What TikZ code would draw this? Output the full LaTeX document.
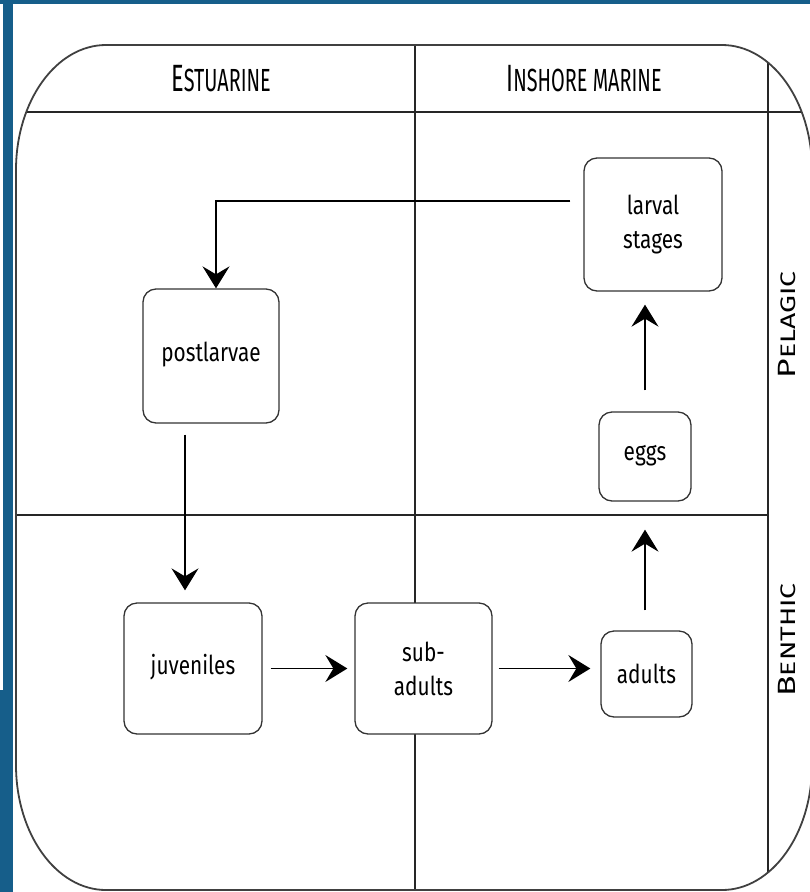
\documentclass[tikz,border=0pt]{standalone}
\usepackage{fontspec}
\usepackage{tikz}
\usetikzlibrary{arrows.meta,calc}
\newfontfamily\boxfont[FakeStretch=0.8]{Fira Sans}
\newfontfamily\headfont[FakeStretch=0.62]{Fira Sans}
\newfontfamily\sidefont[FakeStretch=1.35]{Fira Sans}
\definecolor{frameblue}{RGB}{22,94,138}
\def\poolline{(106,45) -- (722,45) .. controls (771.7,45) and (812,101) .. (812,170)
  -- (812,765) .. controls (812,834) and (771.7,890) .. (722,890)
  -- (106,890) .. controls (56.3,890) and (16,834) .. (16,765)
  -- (16,170) .. controls (16,101) and (56.3,45) .. (106,45) -- cycle}
\newcommand\liftup[1]{\raisebox{8pt}{#1}}

\begin{document}
\begin{tikzpicture}[x=1pt, y=-1pt,
    stage/.style={draw=black!80, fill=white, line width=1.3pt, rounded corners=13pt, align=center,
      font=\boxfont\fontsize{26}{34}\selectfont},
    flow/.style={-{Stealth[length=22pt,width=27pt,inset=8pt]}, line width=1.7pt},
    lane/.style={line width=1.6pt, black!85}]
    \useasboundingbox (0,0) rectangle (810,892);
    \fill[frameblue] (0,0) rectangle (810,4);
    \fill[frameblue] (3,0) rectangle (13,892);
    \fill[frameblue] (0,690) rectangle (13,892);
    \begin{scope}
      \clip \poolline;
      \draw[lane] (0,112) -- (810,112);
      \draw[lane] (415,45) -- (415,890);
      \draw[lane] (768,45) -- (768,890);
      \draw[lane] (16,515) -- (768,515);
    \end{scope}
    \draw[line width=1.8pt, black!75] \poolline;
    \node[font=\headfont\fontsize{38}{40}\selectfont] (estuarine) at (221,79) {E{\fontsize{32}{34}\selectfont STUARINE}};
    \node[font=\headfont\fontsize{38}{40}\selectfont] (inshore) at (584,79) {I{\fontsize{32}{34}\selectfont NSHORE MARINE}};
    \node[font=\sidefont\fontsize{25}{26}\selectfont, rotate=90] (pelagic) at (787,325) {P{\fontsize{21}{22}\selectfont ELAGIC}};
    \node[font=\sidefont\fontsize{25}{26}\selectfont, rotate=90] (benthic) at (787,640) {B{\fontsize{21}{22}\selectfont ENTHIC}};
    \node[stage, minimum width=138pt, minimum height=133pt] (larval) at (653,224.5) {larval\\stages};
    \node[stage, minimum width=136pt, minimum height=134pt] (postlarvae) at (211,356) {\liftup{postlarvae}};
    \node[stage, minimum width=92pt, minimum height=89pt] (eggs) at (645,456.5) {\liftup{eggs}};
    \node[stage, minimum width=138pt, minimum height=131pt] (juveniles) at (193,668.5) {\liftup{juveniles}};
    \node[stage, minimum width=137pt, minimum height=131pt] (subadults) at (423.5,668.5) {sub-\\adults};
    \node[stage, minimum width=91pt, minimum height=86pt] (adults) at (646.5,674) {adults};
    \draw[flow, shorten <=13pt] ($(larval.west)+(0,-23.5)$) -| ([xshift=5pt]postlarvae.north);
    \draw[flow, shorten <=11pt, shorten >=12pt] ([xshift=-26pt]postlarvae.south) -- ([xshift=-8pt]juveniles.north);
    \draw[flow, shorten <=8pt, shorten >=7pt] (juveniles.east) -- (subadults.west);
    \draw[flow, shorten <=6pt, shorten >=10pt] (subadults.east) -- (subadults.east -| adults.west);
    \draw[flow, shorten <=20pt, shorten >=28pt] ([xshift=-1.5pt]adults.north) -- (eggs.south);
    \draw[flow, shorten <=21pt, shorten >=13pt] (eggs.north) -- (eggs.north |- larval.south);
  \end{tikzpicture}
\end{document}
